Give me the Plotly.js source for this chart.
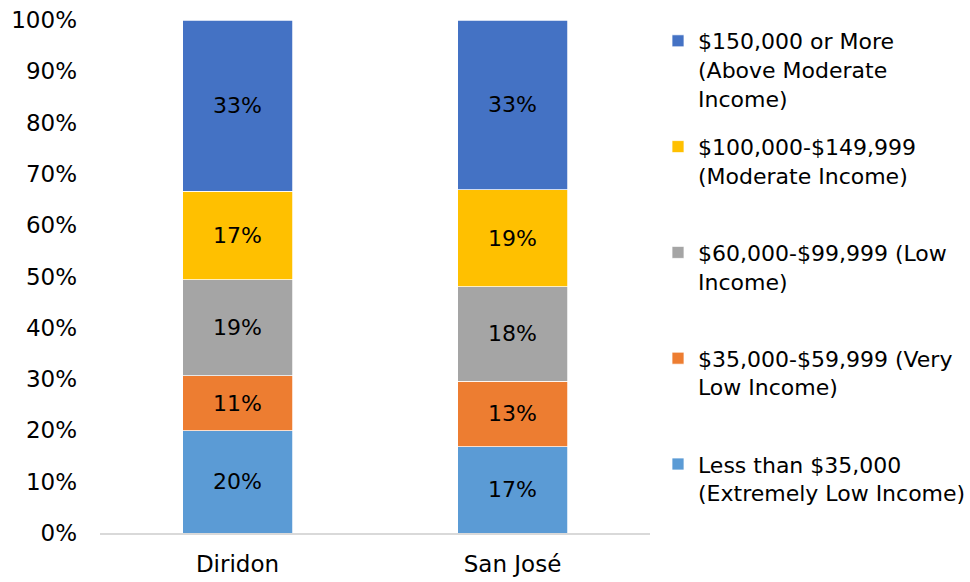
<!DOCTYPE html>
<html>
<head>
<meta charset="utf-8">
<script src="https://cdn.plot.ly/plotly-3.0.1.min.js"></script>
<style>html,body{margin:0;padding:0;background:#fff;}#chart{width:970px;height:582px;}</style>
</head>
<body>
<div id="chart"></div>
<script>
const categories = ["Diridon", "San José"];
const seriesNames = [
  "Less than $35,000<br>(Extremely Low Income)<br>&nbsp;",
  "$35,000-$59,999 (Very<br>Low Income)<br>&nbsp;",
  "$60,000-$99,999 (Low<br>Income)<br>&nbsp;",
  "$100,000-$149,999<br>(Moderate Income)<br>&nbsp;",
  "$150,000 or More<br>(Above Moderate<br>Income)"
];
const lessThan35k = [19.9, 16.8];
const from35to60k = [10.8, 12.8];
const from60to100k = [18.7, 18.4];
const from100to150k = [17.2, 18.9];
const above150k = [33.4, 33.1];
const seriesValues = [lessThan35k, from35to60k, from60to100k, from100to150k, above150k];
const seriesColors = ["#5B9BD5", "#ED7D31", "#A5A5A5", "#FFC000", "#4472C4"];

const FONT = "DejaVu Sans";
const traces = seriesValues.map((vals, i) => ({
  type: "bar",
  x: categories,
  y: vals,
  name: seriesNames[i],
  legendgroup: "g" + i,
  legendrank: 100 - i,
  marker: { color: seriesColors[i], line: { color: "#ffffff", width: 0.75 } },
  texttemplate: "%{y:.0f}%",
  textposition: "inside",
  insidetextanchor: "middle",
  textangle: 0,
  textfont: { family: FONT, size: 22, color: "#000000" },
  hoverinfo: "skip"
}));

const layout = {
  width: 970,
  height: 582,
  margin: { l: 100, r: 320, t: 20, b: 49 },
  paper_bgcolor: "#ffffff",
  plot_bgcolor: "#ffffff",
  barmode: "stack",
  bargap: 0.6,
  font: { family: FONT, size: 22, color: "#000000" },
  showlegend: true,
  legend: {
    xref: "container", yref: "container",
    x: 658 / 970, xanchor: "left",
    y: 1 - 20 / 582, yanchor: "top",
    valign: "top",
    traceorder: "grouped",
    tracegroupgap: 17,
    itemwidth: 30,
    maxheight: 1,
    font: { family: FONT, size: 22, color: "#000000" },
    bgcolor: "rgba(0,0,0,0)"
  },
  xaxis: {
    type: "category",
    showline: true,
    linecolor: "#d9d9d9",
    linewidth: 1.5,
    ticks: "",
    showgrid: false,
    ticklabelstandoff: 10,
    tickfont: { family: FONT, size: 23, color: "#000000" }
  },
  yaxis: {
    range: [0, 100],
    dtick: 10,
    ticksuffix: "%",
    showgrid: false,
    zeroline: false,
    showline: false,
    ticks: "",
    ticklabelstandoff: 22,
    tickfont: { family: FONT, size: 23, color: "#000000" }
  }
};

Plotly.newPlot("chart", traces, layout, { displayModeBar: false, staticPlot: true });
</script>
</body>
</html>
